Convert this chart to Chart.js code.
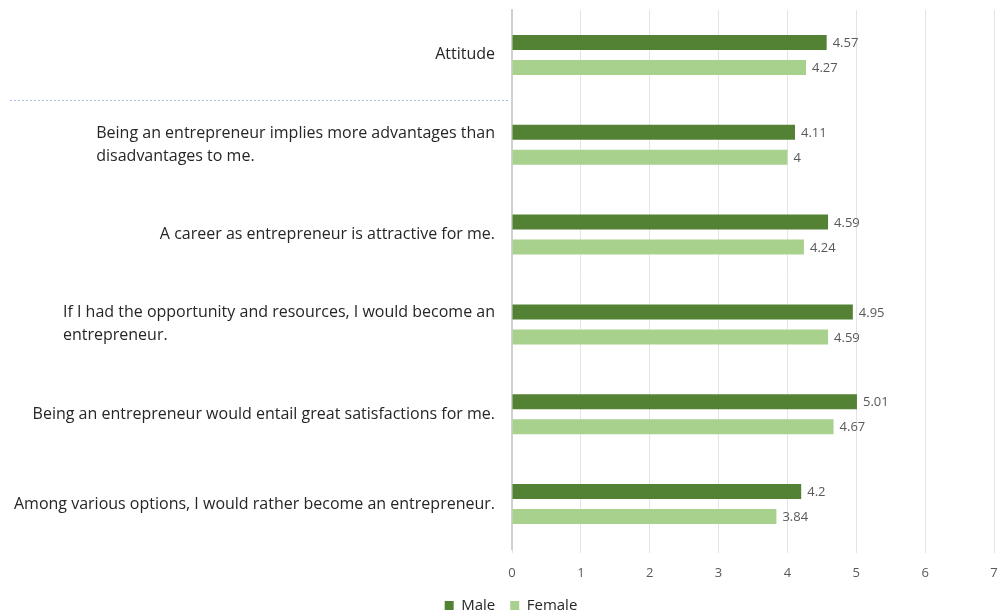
<!DOCTYPE html>
<html>
<head>
<meta charset="utf-8">
<script src="https://cdn.jsdelivr.net/npm/chart.js@4/dist/chart.umd.min.js"></script>
<style>
  html, body { margin: 0; padding: 0; background: #fff; }
  #wrap { width: 999px; height: 615px; position: relative; }
</style>
</head>
<body>
<div id="wrap"><canvas id="attitude-chart"></canvas></div>
<script>
// Statement labels, one array entry per printed line
const statements = [
    ['Attitude'],
    ['Being an entrepreneur implies more advantages than', 'disadvantages to me.'],
    ['A career as entrepreneur is attractive for me.'],
    ['If I had the opportunity and resources, I would become an', 'entrepreneur.'],
    ['Being an entrepreneur would entail great satisfactions for me.'],
    ['Among various options, I would rather become an entrepreneur.']
];
const maleScores = [4.57, 4.11, 4.59, 4.95, 5.01, 4.2];
const femaleScores = [4.27, 4, 4.24, 4.59, 4.67, 3.84];
const xTicks = [0, 1, 2, 3, 4, 5, 6, 7];

const FONT = '"Open Sans", "Liberation Sans", sans-serif';

// Right-aligned block of statement text, each line left-aligned inside it
const statementLabels = {
    id: 'statementLabels',
    afterDraw(chart) {
        const ctx = chart.ctx;
        const y = chart.scales.y;
        const right = chart.chartArea.left - 17;
        const lineH = 23;
        ctx.save();
        ctx.font = '16px ' + FONT;
        ctx.fillStyle = '#262626';
        ctx.textBaseline = 'middle';
        ctx.textAlign = 'left';
        statements.forEach((lines, i) => {
            const cy = y.getPixelForValue(i);
            const w = Math.max(...lines.map(l => ctx.measureText(l).width));
            const top = cy - (lines.length - 1) * lineH / 2;
            lines.forEach((l, j) => ctx.fillText(l, right - w, top + j * lineH));
        });
        ctx.restore();
    }
};

// Value printed at the end of every bar
const barValues = {
    id: 'barValues',
    afterDatasetsDraw(chart) {
        const ctx = chart.ctx;
        ctx.save();
        ctx.font = '13px ' + FONT;
        ctx.fillStyle = '#595959';
        ctx.textBaseline = 'middle';
        ctx.textAlign = 'left';
        chart.data.datasets.forEach((ds, di) => {
            chart.getDatasetMeta(di).data.forEach((bar, i) => {
                ctx.fillText(String(ds.data[i]), bar.x + 6, bar.y + 1);
            });
        });
        ctx.restore();
    }
};

// Dotted separator under the Attitude summary row
const separator = {
    id: 'separator',
    afterDraw(chart) {
        const y = chart.scales.y;
        const py = Math.round((y.getPixelForValue(0) + y.getPixelForValue(1)) / 2) + 0.5;
        const ctx = chart.ctx;
        ctx.save();
        ctx.strokeStyle = '#a6bedf';
        ctx.lineWidth = 1;
        ctx.setLineDash([2, 2]);
        ctx.beginPath();
        ctx.moveTo(10, py);
        ctx.lineTo(chart.chartArea.left - 2, py);
        ctx.stroke();
        ctx.restore();
    }
};

// Nudge the legend a little to the right of the canvas centre
const legendShift = {
    id: 'legendShift',
    afterLayout(chart) {
        if (chart.legend) {
            chart.legend.left += 14;
            chart.legend.right += 14;
        }
    }
};

new Chart(document.getElementById('attitude-chart'), {
    type: 'bar',
    data: {
        labels: statements.map(s => s.join(' ')),
        datasets: [
            {
                label: 'Male',
                data: maleScores,
                backgroundColor: '#548235',
                categoryPercentage: 0.556,
                barPercentage: 0.6
            },
            {
                label: 'Female',
                data: femaleScores,
                backgroundColor: '#a9d18e',
                categoryPercentage: 0.556,
                barPercentage: 0.6
            }
        ]
    },
    options: {
        indexAxis: 'y',
        responsive: true,
        maintainAspectRatio: false,
        animation: false,
        layout: { padding: { top: 10, right: 5, bottom: -8, left: 0 } },
        scales: {
            x: {
                min: 0,
                max: 7,
                afterBuildTicks(scale) {
                    scale.ticks = xTicks.map(v => ({ value: v }));
                },
                afterFit(scale) {
                    scale.height = 34;
                    scale.paddingRight = 0;
                },
                grid: { color: '#e4e4e4', lineWidth: 1, tickLength: 4 },
                border: { display: false },
                ticks: {
                    color: '#595959',
                    font: { family: FONT, size: 13 },
                    padding: 12
                }
            },
            y: {
                afterFit(scale) { scale.width = 512; },
                grid: { display: false },
                border: { display: true, color: '#d0d0d0', width: 2 },
                ticks: { display: false }
            }
        },
        plugins: {
            legend: {
                position: 'bottom',
                labels: {
                    color: '#262626',
                    font: { family: FONT, size: 15 },
                    boxWidth: 9,
                    boxHeight: 9,
                    padding: 15
                }
            },
            tooltip: { enabled: false }
        }
    },
    plugins: [statementLabels, barValues, separator, legendShift]
});
</script>
</body>
</html>
